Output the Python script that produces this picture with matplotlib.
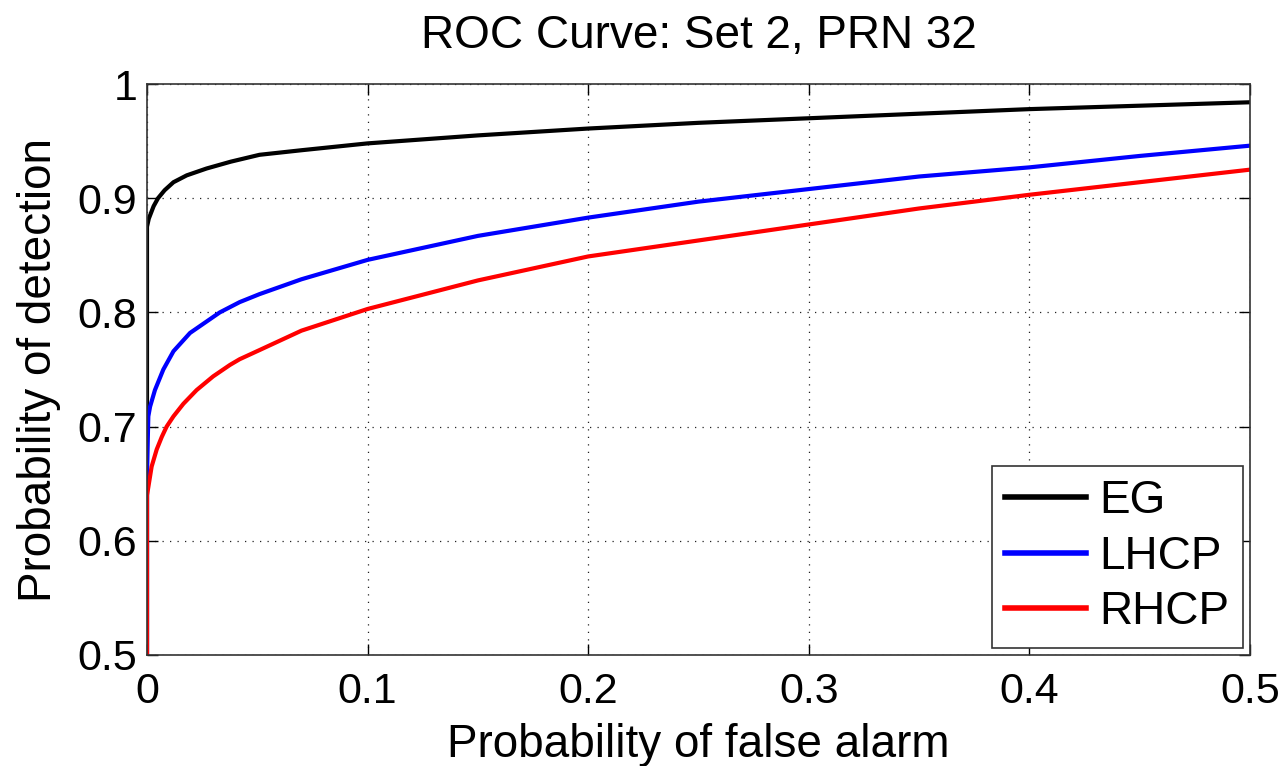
import matplotlib
matplotlib.use("Agg")
import matplotlib.pyplot as plt

plt.rcParams['font.family'] = ['Liberation Sans', 'DejaVu Sans']

# Data
eg_pfa = [0, 0, 0.0008, 0.002, 0.003, 0.005, 0.008, 0.012, 0.018, 0.027, 0.038, 0.051,
          0.07, 0.1, 0.15, 0.2, 0.25, 0.3, 0.35, 0.4, 0.45, 0.5]
eg_pd = [0.5, 0.875, 0.882, 0.888, 0.893, 0.9, 0.907, 0.914, 0.92, 0.926, 0.932, 0.938,
         0.942, 0.948, 0.955, 0.961, 0.966, 0.970, 0.974, 0.978, 0.981, 0.984]

lhcp_pfa = [0, 0, 0.0006, 0.0014, 0.0036, 0.0074, 0.012, 0.0195, 0.027, 0.033, 0.042,
            0.051, 0.07, 0.1, 0.15, 0.2, 0.25, 0.3, 0.35, 0.4, 0.45, 0.5]
lhcp_pd = [0.5, 0.66, 0.709, 0.7175, 0.732, 0.750, 0.766, 0.782, 0.792, 0.80, 0.809,
           0.816, 0.829, 0.846, 0.867, 0.883, 0.897, 0.908, 0.919, 0.927, 0.937, 0.946]

rhcp_pfa = [0, 0, 0.0006, 0.0021, 0.0044, 0.0067, 0.0089, 0.012, 0.0165, 0.0225, 0.030,
            0.0376, 0.042, 0.051, 0.07, 0.1, 0.15, 0.2, 0.25, 0.3, 0.35, 0.4, 0.45, 0.5]
rhcp_pd = [0.5, 0.64, 0.647, 0.665, 0.680, 0.691, 0.700, 0.709, 0.720, 0.732, 0.744,
           0.754, 0.759, 0.767, 0.784, 0.803, 0.828, 0.849, 0.863, 0.877, 0.891, 0.903,
           0.914, 0.925]

labels = ["EG", "LHCP", "RHCP"]
x_ticks = [0, 0.1, 0.2, 0.3, 0.4, 0.5]
x_ticklabels = ["0", "0.1", "0.2", "0.3", "0.4", "0.5"]
y_ticks = [0.5, 0.6, 0.7, 0.8, 0.9, 1.0]
y_ticklabels = ["0.5", "0.6", "0.7", "0.8", "0.9", "1"]

fig = plt.figure(figsize=(12.86, 7.66), dpi=100)
ax = fig.add_axes([147 / 1286, 111 / 766, 1103 / 1286, 571 / 766])

ax.plot(eg_pfa, eg_pd, color='black', lw=3, label=labels[0], solid_joinstyle='round')
ax.plot(lhcp_pfa, lhcp_pd, color='#0000ff', lw=3, label=labels[1], solid_joinstyle='round')
ax.plot(rhcp_pfa, rhcp_pd, color='#ff0000', lw=3, label=labels[2], solid_joinstyle='round')

ax.set_xlim(0, 0.5)
ax.set_ylim(0.5, 1.0)
ax.set_xticks(x_ticks)
ax.set_xticklabels(x_ticklabels)
ax.set_yticks(y_ticks)
ax.set_yticklabels(y_ticklabels)

ax.grid(True, color='#222222', linestyle=(0, (1, 5)), linewidth=0.9)
ax.tick_params(direction='in', length=8, width=1, top=True, right=True,
               labelsize=31)
ax.tick_params(axis='x', pad=12)
ax.tick_params(axis='y', pad=7)
for s in ax.spines.values():
    s.set_linewidth(1.2)
    s.set_color('#333333')

ax.set_title("ROC Curve: Set 2, PRN 32", fontsize=33, pad=26)
ax.set_xlabel("Probability of false alarm", fontsize=33, labelpad=8)
ax.set_ylabel("Probability of detection", fontsize=33, labelpad=12)

leg = ax.legend(loc='lower right', fontsize=33, fancybox=False, framealpha=1,
                edgecolor='#333333', handlelength=1.75, handletextpad=0.3,
                borderpad=0.3, labelspacing=0.25, borderaxespad=0.15)
leg.get_frame().set_linewidth(1.2)
for line in leg.get_lines():
    line.set_linewidth(4)

fig.savefig("out.png", dpi=100)
